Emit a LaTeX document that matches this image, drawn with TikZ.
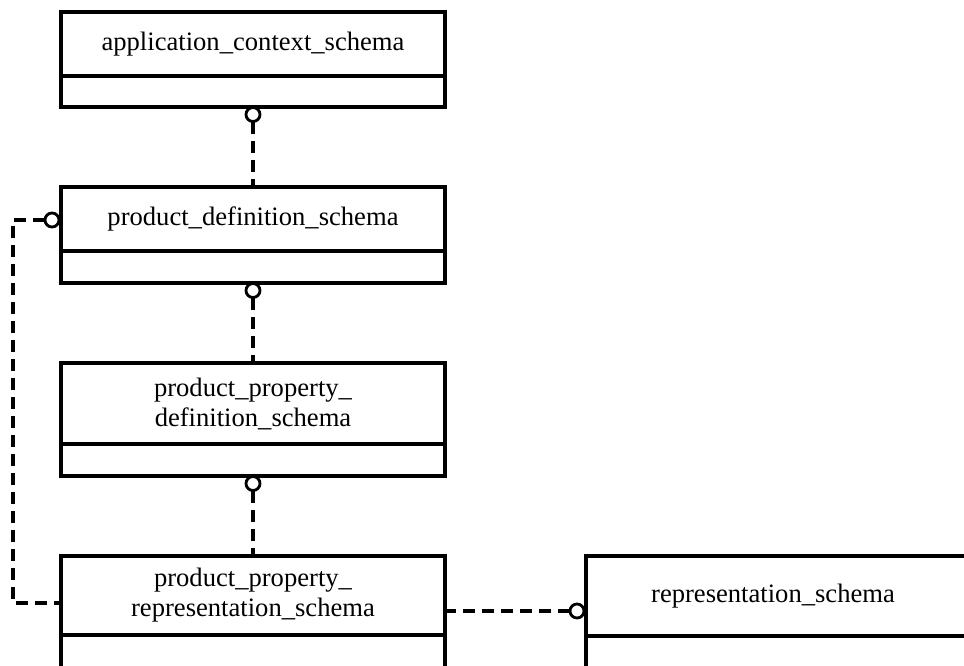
\documentclass[tikz,border=0pt]{standalone}
\usepackage{fontspec}
\setmainfont{Liberation Serif}
\begin{document}
\begin{tikzpicture}[x=1pt,y=-1pt,
  entitybox/.style={draw,line width=3.3pt,minimum width=384pt,inner sep=0pt,outer sep=0pt},
  lowerbox/.style={line width=3.3pt},
  lbl/.style={align=center,inner sep=0pt,font=\fontsize{26.6}{30}\selectfont},
  ring/.style={circle,draw,line width=2.8pt,fill=white,minimum size=14pt,inner sep=0pt,outer sep=0pt},
  link/.style={line width=3.3pt,dash pattern=on 12pt off 7pt}]
\useasboundingbox (0,0) rectangle (964,666);
\clip (0,0) rectangle (964,666);

% entity boxes: upper section carries the name, lower section is empty
\node[entitybox,minimum height=64pt] (b1) at (253,44) {};
\draw[lowerbox] (b1.south west) rectangle ++(384,31);
\node[lbl] (t1) at (b1.center) {application\_context\_schema};

\node[entitybox,minimum height=64pt] (b2) at (253,219) {};
\draw[lowerbox] (b2.south west) rectangle ++(384,32);
\node[lbl] (t2) at (b2.center) {product\_definition\_schema};

\node[entitybox,minimum height=81pt] (b3) at (253,403.5) {};
\draw[lowerbox] (b3.south west) rectangle ++(384,32);
\node[lbl] (t3) at (b3.center) {product\_property\_\\definition\_schema};

\node[entitybox,minimum height=79pt] (b4) at (253,595.5) {};
\draw[lowerbox] (b4.south west) rectangle ++(384,60);
\node[lbl] (t4) at (b4.center) {product\_property\_\\representation\_schema};

\node[entitybox,minimum height=80pt] (b5) at (778,596) {};
\draw[lowerbox] (b5.south west) rectangle ++(384,60);
\node[lbl] (t5) at (773,596) {representation\_schema};

% dashed connectors
\coordinate (k1) at (13,220);
\coordinate (k2) at (13,603);
\coordinate (p1) at (253,122);
\coordinate (p2) at (253,298);
\coordinate (p3) at (253,491);
\coordinate (p4) at (45,220);
\coordinate (p5) at (570,611);
\draw[link] (p1) -- (b2.north);
\draw[link] (p2) -- (b3.north);
\draw[link] (p3) -- (b4.north);
\draw[link] (p5) -- (p5 -| b4.east);
\draw[link] (p4) -- (k1) -- (k2) -- (k2 -| b4.west);

% connector rings
\node[ring] (c1) at (253,114.5) {};
\node[ring] (c2) at (253,290.5) {};
\node[ring] (c3) at (253,483.5) {};
\node[ring] (c4) at (52,220) {};
\node[ring] (c5) at (577,611) {};
\end{tikzpicture}
\end{document}
